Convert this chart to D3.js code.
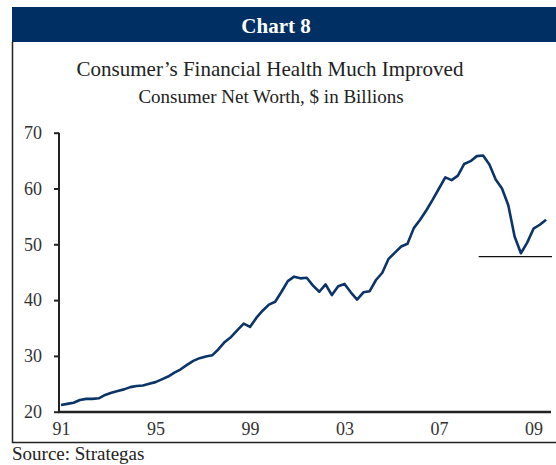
<!DOCTYPE html>
<html><head><meta charset="utf-8">
<script src="https://cdn.jsdelivr.net/npm/d3@7/dist/d3.min.js"></script>
<style>body{margin:0;background:#fff}svg{display:block}</style>
</head><body>
<svg id="c" width="556" height="465"></svg>
<script>
// Consumer net worth, quarterly points
const netWorth = [21.2,21.4,21.6,22.1,22.3,22.3,22.4,23.0,23.4,23.7,
  24.0,24.4,24.6,24.7,25.0,25.3,25.8,26.3,27.0,27.6,
  28.4,29.1,29.6,29.9,30.1,31.2,32.5,33.4,34.6,35.8,
  35.2,36.8,38.1,39.2,39.7,41.5,43.4,44.2,43.9,44.0,
  42.6,41.5,42.8,40.9,42.5,42.9,41.4,40.1,41.4,41.6,
  43.6,44.9,47.4,48.5,49.6,50.1,52.9,54.4,56.1,58.0,
  60.0,62.0,61.5,62.3,64.4,64.9,65.8,65.9,64.3,61.6,
  60.0,57.0,51.4,48.4,50.3,52.8,53.5,54.4];
const xTickIndex = [0,15,30,45,60,75];
const xTickLabels = ["91","95","99","03","07","09"];
const yTicks = [20,30,40,50,60,70];
const refLevel = 47.8;          // horizontal reference line at trough
const refStartIndex = 66.3;

const svg = d3.select("#c");
const serif = "'Liberation Serif','Times New Roman',serif";

// header band
svg.append("rect").attr("x",12).attr("y",7).attr("width",544).attr("height",35).attr("fill","#003063");
svg.append("text").attr("x",276).attr("y",33).attr("text-anchor","middle")
  .attr("font-family",serif).attr("font-weight","bold").attr("font-size",21).attr("fill","#fff").text("Chart 8");

// box border
svg.append("path").attr("d","M12.5,42V442.5H556").attr("fill","none").attr("stroke","#222").attr("stroke-width",1.5);

svg.append("text").attr("x",270).attr("y",76).attr("text-anchor","middle")
  .attr("font-family",serif).attr("font-size",21).attr("fill","#222").text("Consumer’s Financial Health Much Improved");
svg.append("text").attr("x",271).attr("y",103).attr("text-anchor","middle")
  .attr("font-family",serif).attr("font-size",19).attr("fill","#222").text("Consumer Net Worth, $ in Billions");

const x = d3.scaleLinear().domain([0,77]).range([61,546.1]);
const y = d3.scaleLinear().domain([20,70]).range([411.7,132.7]);

// y axis
const yAxis = svg.append("g").attr("transform","translate(59,0)")
  .call(d3.axisLeft(y).tickValues(yTicks).tickSize(5).tickPadding(12).tickFormat(d3.format("d")));
yAxis.select(".domain").attr("stroke","#222").attr("stroke-width",2).attr("d","M0,132.7V412.5");
yAxis.selectAll(".tick line").attr("stroke","#222").attr("stroke-width",2);
yAxis.selectAll(".tick text").attr("font-family",serif).attr("font-size",18).attr("fill","#333");

// x axis
const xAxis = svg.append("g").attr("transform","translate(0,412)")
  .call(d3.axisBottom(x).tickValues(xTickIndex).tickSize(0).tickPadding(10).tickFormat((d,i)=>xTickLabels[i]));
xAxis.select(".domain").attr("stroke","#222").attr("stroke-width",2.5).attr("d","M58,0H551");
xAxis.selectAll(".tick text").attr("font-family",serif).attr("font-size",18).attr("fill","#333");

// reference line
svg.append("line").attr("x1",x(refStartIndex)).attr("x2",552).attr("y1",y(refLevel)).attr("y2",y(refLevel))
  .attr("stroke","#111").attr("stroke-width",1.3);

// data line
svg.append("path").datum(netWorth)
  .attr("d",d3.line().x((d,i)=>x(i)).y(d=>y(d)))
  .attr("fill","none").attr("stroke","#0b3468").attr("stroke-width",2.6).attr("stroke-linejoin","round");

svg.append("text").attr("x",12).attr("y",460).attr("font-family",serif).attr("font-size",19).attr("fill","#222").text("Source: Strategas");
</script>
</body></html>
